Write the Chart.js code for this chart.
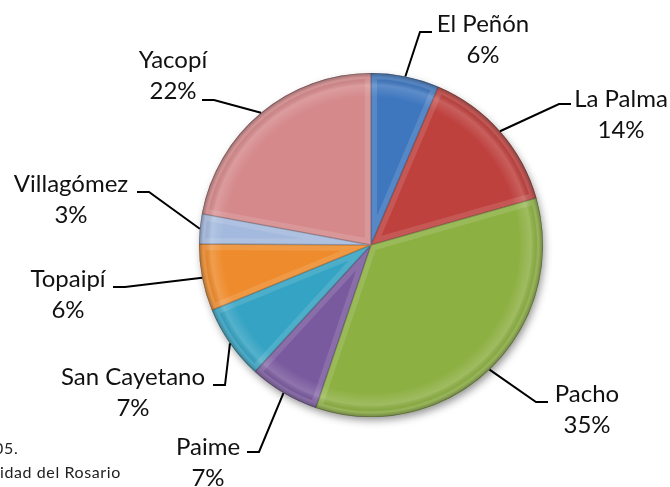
<!DOCTYPE html>
<html>
<head>
<meta charset="utf-8">
<script src="https://cdn.jsdelivr.net/npm/chart.js@4/dist/chart.umd.min.js"></script>
<style>
  html, body { margin: 0; padding: 0; background: #ffffff; }
  #wrap { position: relative; width: 670px; height: 487px; }
  canvas { display: block; }
</style>
</head>
<body>
<div id="wrap"><canvas id="c" width="670" height="487"></canvas></div>
<script>
// ---- data ----
const categories = ["El Peñón", "La Palma", "Pacho", "Paime", "San Cayetano", "Topaipí", "Villagómez", "Yacopí"];
const values = [6.4, 14.2, 34.6, 6.6, 7.0, 6.3, 2.8, 22.1];
const percentLabels = ["6%", "14%", "35%", "7%", "7%", "6%", "3%", "22%"];

// ---- styling / layout (not data) ----
const sliceColors = ["#3F77BF", "#BE413E", "#8DB043", "#7A5A9E", "#35A3C3", "#EE8B2C", "#A3B9DD", "#D5898B"];
// text centre x, first baseline y, leader end point (lx,ly), elbow direction
const labelLayout = [
  { x: 483, y: 32,  lx: 432, ly: 32,  dir: -1 },
  { x: 621, y: 107, lx: 571, ly: 104, dir: -1 },
  { x: 587, y: 402, lx: 548, ly: 402, dir: -1 },
  { x: 208, y: 455, lx: 247, ly: 452, dir: 1 },
  { x: 133, y: 385, lx: 213, ly: 385, dir: 1 },
  { x: 68,  y: 287, lx: 113, ly: 287, dir: 1 },
  { x: 71,  y: 192, lx: 137, ly: 192, dir: 1 },
  { x: 173, y: 68,  lx: 202, ly: 100, dir: 1 }
];
const FONT = "Lato, 'Open Sans', sans-serif";

const shadowPlugin = {
  id: 'pieShadow',
  beforeDatasetsDraw(chart) {
    const arc = chart.getDatasetMeta(0).data[0];
    if (!arc) return;
    const ctx = chart.ctx;
    ctx.save();
    ctx.shadowColor = 'rgba(0,0,0,0.45)';
    ctx.shadowBlur = 9;
    ctx.shadowOffsetX = 2;
    ctx.shadowOffsetY = 4;
    ctx.fillStyle = '#777';
    ctx.beginPath();
    ctx.arc(arc.x, arc.y, arc.outerRadius - 1, 0, Math.PI * 2);
    ctx.fill();
    ctx.restore();
  }
};

const bevelPlugin = {
  id: 'bevel',
  afterDatasetsDraw(chart) {
    const ctx = chart.ctx;
    const meta = chart.getDatasetMeta(0);
    meta.data.forEach((a) => {
      const R = a.outerRadius;
      ctx.save();
      ctx.beginPath();
      ctx.moveTo(a.x, a.y);
      ctx.arc(a.x, a.y, R, a.startAngle, a.endAngle);
      ctx.closePath();
      ctx.clip();
      const g = ctx.createRadialGradient(a.x, a.y, 0, a.x, a.y, R);
      g.addColorStop(0, 'rgba(255,255,255,0)');
      g.addColorStop(0.86, 'rgba(255,255,255,0)');
      g.addColorStop(0.93, 'rgba(255,255,255,0.16)');
      g.addColorStop(0.975, 'rgba(0,0,0,0.04)');
      g.addColorStop(1, 'rgba(0,0,0,0.35)');
      ctx.fillStyle = g;
      ctx.fillRect(a.x - R, a.y - R, 2 * R, 2 * R);
      ctx.beginPath();
      ctx.moveTo(a.x, a.y);
      ctx.arc(a.x, a.y, R, a.startAngle, a.endAngle);
      ctx.closePath();
      ctx.lineWidth = 12;
      ctx.strokeStyle = 'rgba(255,255,255,0.12)';
      ctx.stroke();
      ctx.lineWidth = 1.6;
      ctx.strokeStyle = 'rgba(0,0,0,0.2)';
      ctx.stroke();
      ctx.restore();
    });
  }
};

const labelPlugin = {
  id: 'outLabels',
  afterDraw(chart) {
    const ctx = chart.ctx;
    const meta = chart.getDatasetMeta(0);
    ctx.save();
    meta.data.forEach((a, i) => {
      const L = labelLayout[i];
      const mid = (a.startAngle + a.endAngle) / 2;
      const r = a.outerRadius;
      const sx = a.x + Math.cos(mid) * r;
      const sy = a.y + Math.sin(mid) * r;
      const ex = L.lx + L.dir * 12;
      ctx.strokeStyle = '#000';
      ctx.lineWidth = 2;
      ctx.beginPath();
      ctx.moveTo(sx, sy);
      ctx.lineTo(ex, L.ly);
      ctx.lineTo(L.lx, L.ly);
      ctx.stroke();
      ctx.fillStyle = '#111';
      ctx.font = '24px ' + FONT;
      ctx.textAlign = 'center';
      ctx.textBaseline = 'alphabetic';
      ctx.fillText(categories[i], L.x, L.y);
      ctx.fillText(percentLabels[i], L.x, L.y + 31);
    });
    // partially visible source note (cropped at left edge)
    ctx.fillStyle = '#222';
    ctx.textAlign = 'left';
    ctx.font = '16px ' + FONT;
    ctx.letterSpacing = '0.6px';
    const full = 'Universidad del Rosario';
    const hidden = ctx.measureText('Univers').width;
    ctx.fillText(full, -hidden, 478);
    const hidden2 = ctx.measureText('200').width - 4;
    ctx.fillText('2005.', -hidden2, 454);
    ctx.restore();
  }
};

new Chart(document.getElementById('c'), {
  type: 'pie',
  data: {
    labels: categories,
    datasets: [{
      data: values,
      backgroundColor: sliceColors,
      borderWidth: 0
    }]
  },
  options: {
    responsive: false,
    animation: false,
    layout: { padding: { left: 199, right: 127, top: 73, bottom: 70 } },
    plugins: {
      legend: { display: false },
      tooltip: { enabled: false }
    }
  },
  plugins: [shadowPlugin, bevelPlugin, labelPlugin]
});
</script>
</body>
</html>
